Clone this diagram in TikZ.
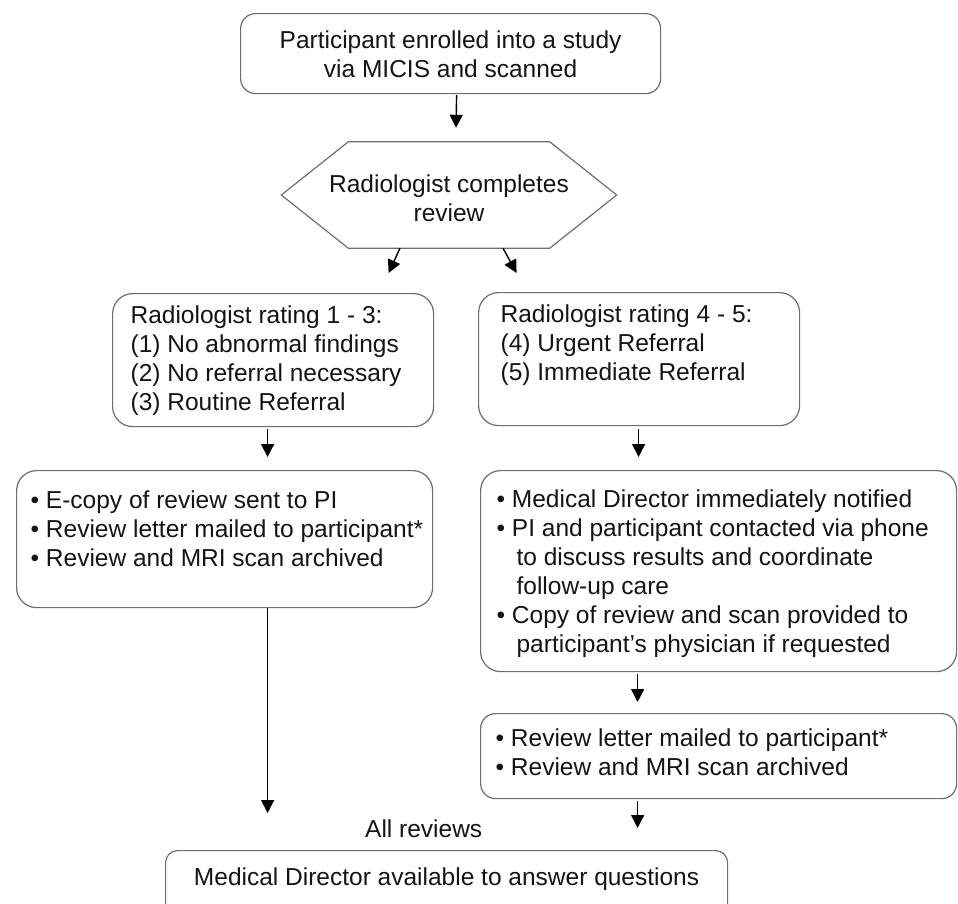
\documentclass[tikz,border=0pt]{standalone}
\usepackage{fontspec}
\setmainfont{Liberation Sans}
\usetikzlibrary{arrows.meta,calc}
\definecolor{boxgray}{RGB}{110,110,110}
\definecolor{inkcol}{RGB}{20,20,20}
\begin{document}
\begin{tikzpicture}[x=1pt,y=-1pt,
  font=\fontsize{24.5pt}{29pt}\selectfont,
  text=inkcol,
  box/.style={draw=boxgray, line width=1.2pt, rounded corners=#1, inner sep=0pt, anchor=north west},
  box/.default=20pt,
  hexnode/.style={inner sep=0pt},
  hexline/.style={draw=boxgray, line width=1.2pt},
  arr/.style={draw=black, line width=1.4pt, -{Triangle[width=13pt,length=13pt]}},
  plain/.style={inner sep=0pt}
]
\useasboundingbox (0,0) rectangle (958,903);
\clip (0,0) rectangle (958,903);

% top box
\node[box=15pt] (top) at (240,13) {\parbox[c][80pt][t]{420pt}{\vspace*{15pt}\centering\rule{0pt}{20pt}Participant enrolled into a study\\via MICIS and scanned}};

% hexagon
\node[hexnode] (hex) at (449,195) {\parbox[c][106pt][t]{335pt}{\vspace*{30pt}\centering\rule{0pt}{20pt}Radiologist completes\\review}};
\draw[hexline] (hex.west) -- ([xshift=67pt]hex.north west) -- ([xshift=-67pt]hex.north east) -- (hex.east) -- ([xshift=-67pt]hex.south east) -- ([xshift=67pt]hex.south west) -- cycle;

% rating boxes
\node[box=20pt] (lbox) at (112,293) {\parbox[c][133pt][t]{321pt}{\vspace*{10pt}\raggedright\leftskip=18pt\relax\rule{0pt}{20pt}Radiologist rating 1 - 3:\\(1) No abnormal findings\\(2) No referral necessary\\(3) Routine Referral}};
\node[box=20pt] (rbox) at (478,292) {\parbox[c][133pt][t]{321pt}{\vspace*{10pt}\raggedright\leftskip=22pt\relax\rule{0pt}{20pt}Radiologist rating 4 - 5:\\(4) Urgent Referral\\(5) Immediate Referral}};

% lower boxes
\node[box=20pt] (llow) at (16,470) {\parbox[c][137pt][t]{416pt}{\vspace*{18pt}\raggedright\leftskip=14pt\relax\rule{0pt}{20pt}•\ E-copy of review sent to PI\\•\ Review letter mailed to participant*\\•\ Review and MRI scan archived}};
\node[box=20pt] (rlow1) at (480,470) {\parbox[c][201pt][t]{476pt}{\vspace*{17pt}\raggedright\leftskip=16pt\relax\rule{0pt}{20pt}•\ Medical Director immediately notified\\•\ PI and participant contacted via phone\\\hspace*{20pt}to discuss results and coordinate\\\hspace*{20pt}follow-up care\\•\ Copy of review and scan provided to\\\hspace*{20pt}participant’s physician if requested}};
\node[box=15pt] (rlow2) at (480,713) {\parbox[c][85pt][t]{476pt}{\vspace*{13pt}\raggedright\leftskip=15pt\relax\rule{0pt}{20pt}•\ Review letter mailed to participant*\\•\ Review and MRI scan archived}};

% bottom
\node[plain, anchor=base west] (allrev) at (365,837) {All reviews};
\node[box=12pt] (bottom) at (165,850) {\parbox[c][70pt][t]{562pt}{\vspace*{15pt}\centering\rule{0pt}{20pt}Medical Director available to answer questions}};

% connectors
\draw[arr] ([xshift=6pt,yshift=-1pt]top.south) -- ([xshift=7pt,yshift=14pt]hex.north);
\draw[arr] ([xshift=-49pt]hex.south) -- ([xshift=115.5pt,yshift=20pt]lbox.north);
\draw[arr] ([xshift=54pt]hex.south) -- ([xshift=-122.5pt,yshift=19pt]rbox.north);
\draw[arr] ([xshift=-5.5pt,yshift=-2pt]lbox.south) -- ([xshift=43pt,yshift=13pt]llow.north);
\draw[arr] ([xshift=-0.5pt,yshift=-3pt]rbox.south) -- ([xshift=-80pt,yshift=13pt]rlow1.north);
\draw[arr] ([xshift=-81pt,yshift=-2pt]rlow1.south) -- ([xshift=-81pt,yshift=11pt]rlow2.north);
\draw[arr] ([xshift=-81pt,yshift=-2pt]rlow2.south) -- ([xshift=191pt,yshift=22pt]bottom.north);
\draw[arr] ([xshift=43pt]llow.south) -- ([xshift=-179pt,yshift=37pt]bottom.north);
\end{tikzpicture}
\end{document}
